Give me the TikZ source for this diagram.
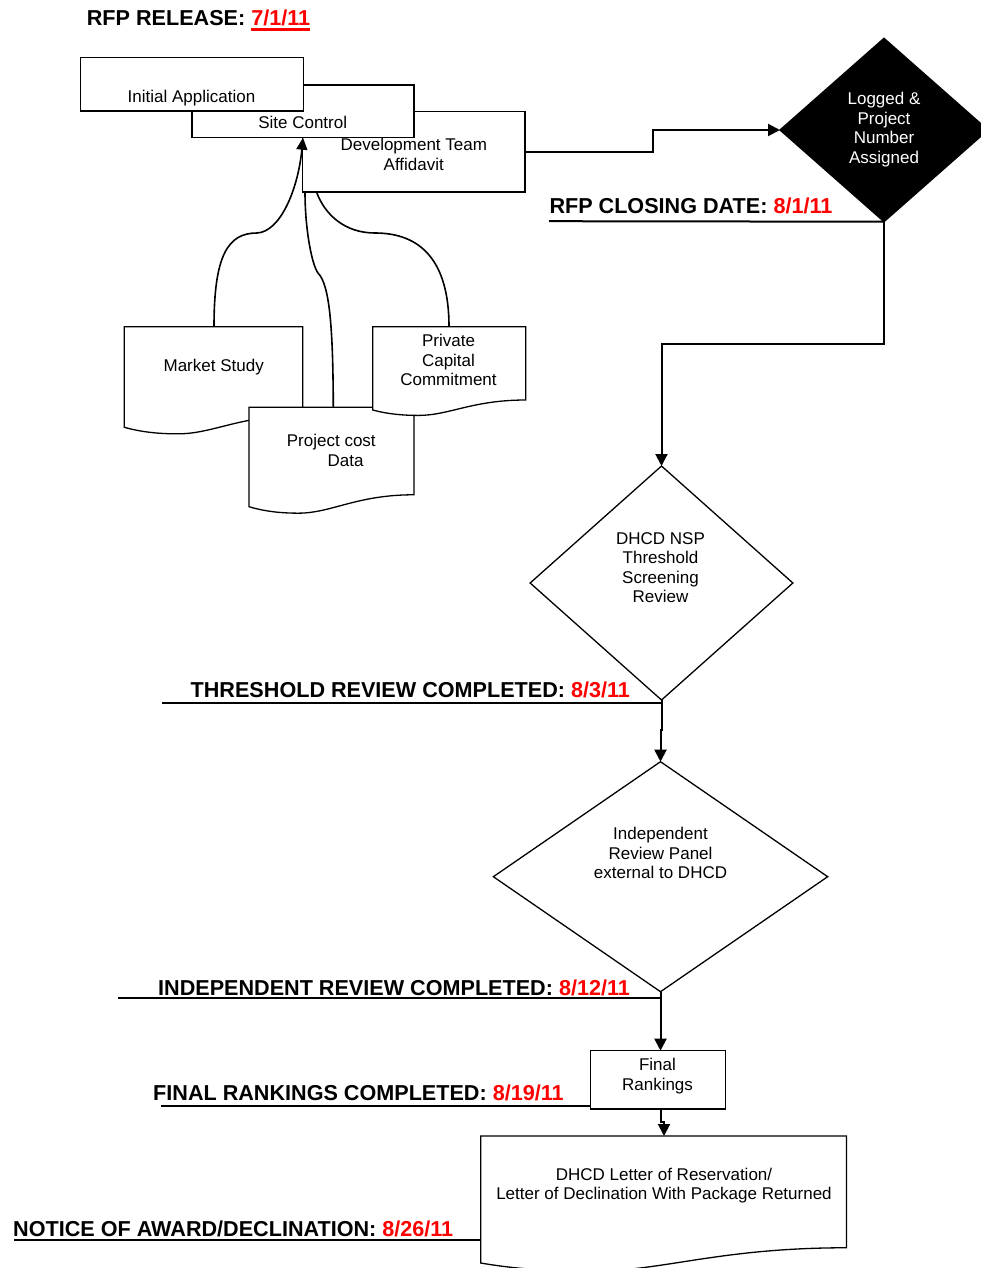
\documentclass[tikz,border=0pt]{standalone}
\usepackage{fontspec}
\setmainfont{Liberation Sans}
\usetikzlibrary{shapes.geometric,arrows.meta}
\newlength\ulwd
\newcommand\redul[1]{\settowidth\ulwd{#1}\textcolor{red}{\rlap{\rule[-5pt]{\ulwd}{2.6pt}}#1}}
\newcommand\mydoc[4]{%
  \pgfmathsetmacro\dsw{#3-#1}%
  \pgfmathsetmacro\dsh{#4-#2}%
  \draw[boxline, fill=white] (#1,#2) -- (#3,#2) -- (#3,{#4-0.12*\dsh})
    .. controls ({#1+0.65*\dsw},{#4-0.12*\dsh}) and ({#1+0.5*\dsw},{#4+0.065*\dsh}) .. ({#1+0.3*\dsw},{#4+0.065*\dsh})
    .. controls ({#1+0.2*\dsw},{#4+0.065*\dsh}) and ({#1+0.1*\dsw},{#4+0.05*\dsh}) .. (#1,#4) -- cycle;}
\begin{document}
\begin{tikzpicture}[x=1pt, y=-1pt,
  boxline/.style={draw, line width=1.3pt},
  rbox/.style={rectangle, draw, line width=1.3pt, fill=white, inner sep=0pt, outer sep=0pt},
  dmd/.style={diamond, draw, line width=1.3pt, inner sep=0pt, outer sep=0pt},
  txt/.style={font=\fontsize{17}{19.5}\selectfont, inner sep=0pt, align=center},
  lbl/.style={font=\fontsize{21.6}{26}\selectfont\bfseries, inner sep=0pt, anchor=base west},
  conn/.style={line width=2pt, -{Triangle[length=12pt,width=12pt]}},
  ulline/.style={line width=2pt},
  curve/.style={line width=1.6pt}]
\useasboundingbox (0,0) rectangle (981,1268);
\clip (0,0) rectangle (981,1268);
\fill[white] (0,0) rectangle (981,1268);

% ---- top label
\node[lbl] (rel) at (86.7,26) {RFP RELEASE: \redul{7/1/11}};

% ---- stacked boxes
\node[rbox, minimum width=222.3pt, minimum height=80.3pt] (dev) at (413.85,151.85) {};
\node[txt] (devt) at (413.8,154.2) {Development Team\\Affidavit};
\node[rbox, minimum width=222pt, minimum height=52.7pt] (site) at (303,111.35) {};
\node[txt, anchor=base] (sitet) at (302.7,128.7) {Site Control};
\node[rbox, minimum width=222.6pt, minimum height=53.3pt] (init) at (192,84.35) {};
\node[txt, anchor=base] (initt) at (191.5,102.7) {Initial Application};

% ---- documents
\mydoc{124.3}{326.7}{302.7}{427.3}
\node[txt, anchor=base] (mst) at (213.7,371) {Market Study};
\mydoc{249}{407.3}{414}{506.7}
\node[txt, anchor=base] (pct1) at (331.3,446.7) {Project cost};
\node[txt, anchor=base] (pct2) at (345.5,466.7) {Data};
\mydoc{372.7}{326.7}{525.7}{410}
\node[txt] (prt) at (448.5,360.1) {Private\\Capital\\Commitment};

\coordinate (msTop) at (214,326.7);
\coordinate (pcTop) at (333.3,407.3);
\coordinate (prTop) at (449,326.7);
\coordinate (pcEnd) at (305,192);
\coordinate (prEnd) at (316.5,192);

\draw[curve, -{Triangle[length=12pt,width=11pt]}] (msTop) .. controls (214,255) and (228,233) .. (257,233)
  .. controls (280,232) and (298,190) .. (site.south);
\draw[curve] (pcTop) .. controls (333,330) and (330,285) .. (318,273)
  .. controls (312,265) and (305,230) .. (pcEnd);
\draw[curve] (prTop) .. controls (449,260) and (420,233) .. (375,233)
  .. controls (345,233) and (325,215) .. (prEnd);

% ---- logged diamond
\node[dmd, fill=black, minimum width=208pt, minimum height=183.4pt] (log) at (884,130) {};
\node[txt, text=white] (logt) at (884,129.75) {Logged \&\\Project\\Number\\Assigned};
\draw[conn] (dev.east) -| (652.7,130) -- (log.west);

\node[lbl] (close) at (549.3,213.3) {RFP CLOSING DATE: \textcolor{red}{8/1/11}};
\coordinate (closeL) at (549,221.2);
\draw[ulline] (closeL) -- (log.south);

% ---- threshold diamond
\node[dmd, fill=white, minimum width=262.7pt, minimum height=234pt] (dhcd) at (661.5,583) {};
\node[txt] (dhcdt) at (660.5,567.4) {DHCD NSP\\Threshold\\Screening\\Review};
\coordinate (bend1) at (661.5,343.5);
\draw[conn] (log.south) |- (bend1) -- (dhcd.north);

\node[lbl] (thr) at (190.5,697) {THRESHOLD REVIEW COMPLETED: \textcolor{red}{8/3/11}};
\coordinate (thrL) at (162,702.5);
\draw[ulline] (thrL) -- (dhcd.south |- thrL);

% ---- independent diamond
\node[dmd, fill=white, minimum width=334.3pt, minimum height=230pt] (ind) at (660.5,876.7) {};
\node[txt] (indt) at (660.5,853) {Independent\\Review Panel\\external to DHCD};
\coordinate (jogA) at (661.5,730);
\coordinate (jogB) at (660.5,730);
\draw[conn] (dhcd.south) -- (jogA) -- (jogB) -- (ind.north);

\node[lbl] (indl) at (158,995) {INDEPENDENT REVIEW COMPLETED: \textcolor{red}{8/12/11}};
\coordinate (indL) at (118,998.3);
\draw[ulline] (indL) -- (ind.south |- indL);

% ---- final rankings
\node[rbox, minimum width=135.1pt, minimum height=58.3pt] (fin) at (658,1079.85) {};
\node[txt] (fint) at (657.5,1076) {Final\\Rankings};
\draw[conn] (ind.south) -- (ind.south |- fin.north);

\node[lbl] (finl) at (153,1100.7) {FINAL RANKINGS COMPLETED: \textcolor{red}{8/19/11}};
\coordinate (finL) at (161,1106);
\draw[ulline] (finL) -- (fin.west |- finL);

% ---- letter document
\mydoc{480.8}{1136}{846.5}{1263}
\node[txt] (lett) at (664,1185.6) {DHCD Letter of Reservation/\\Letter of Declination With Package Returned};
\coordinate (letTop) at (664,1136);
\coordinate (finOut) at (661,1109);
\coordinate (jogC) at (661,1122);
\coordinate (jogD) at (664,1122);
\draw[conn] (finOut) -- (jogC) -- (jogD) -- (letTop);

\node[lbl] (notl) at (13,1236) {NOTICE OF AWARD/DECLINATION: \textcolor{red}{8/26/11}};
\coordinate (notL) at (14,1240);
\coordinate (letLeft) at (480.8,1240);
\draw[ulline] (notL) -- (letLeft);
\end{tikzpicture}
\end{document}
